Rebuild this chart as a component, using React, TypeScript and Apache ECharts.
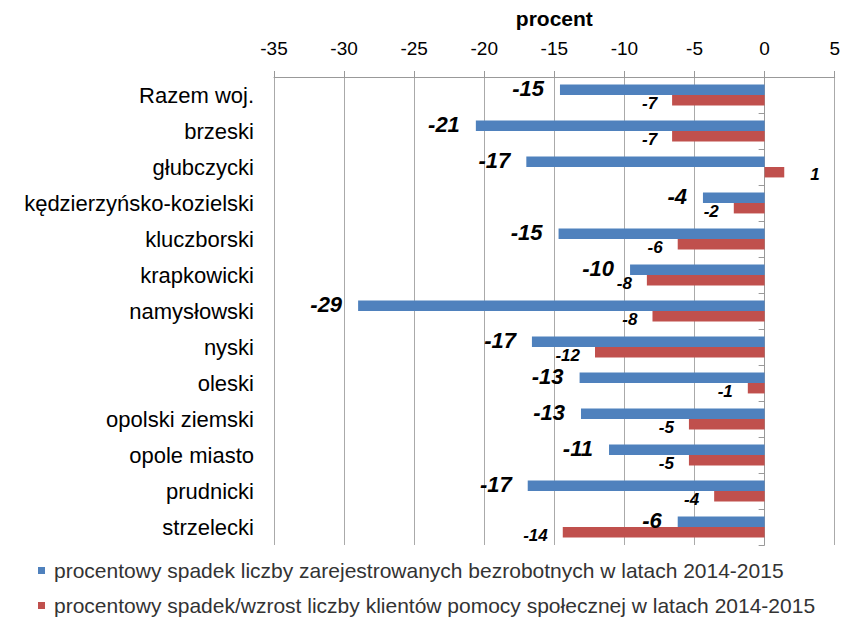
import React, { useEffect, useRef } from "react";
import * as echarts from "echarts";

const categories = [
  "Razem woj.",
  "brzeski",
  "głubczycki",
  "kędzierzyńsko-kozielski",
  "kluczborski",
  "krapkowicki",
  "namysłowski",
  "nyski",
  "oleski",
  "opolski ziemski",
  "opole miasto",
  "prudnicki",
  "strzelecki",
];

const unemployedDrop = [-14.6, -20.6, -17.0, -4.4, -14.7, -9.6, -29.0, -16.6, -13.2, -13.1, -11.1, -16.9, -6.2];
const welfareChange = [-6.6, -6.6, 1.4, -2.2, -6.2, -8.4, -8.0, -12.1, -1.2, -5.4, -5.4, -3.6, -14.4];

const seriesNames = [
  "procentowy spadek liczby zarejestrowanych bezrobotnych w latach 2014-2015",
  "procentowy spadek/wzrost liczby klientów pomocy społecznej w latach 2014-2015",
];

const FONT = "'Liberation Sans', Arial, sans-serif";

export default function App() {
  const ref = useRef<HTMLDivElement>(null);
  useEffect(() => {
    if (!ref.current) return;
    const chart = echarts.init(ref.current, null, { renderer: "svg" });
    const fmt = (p: any) => String(Math.round(p.value));
    const legendBase = {
      orient: "vertical",
      left: 38,
      padding: 0,
      itemWidth: 7,
      itemHeight: 7,
      icon: "rect",
      textStyle: { fontFamily: FONT, fontSize: 21, color: "#333", padding: [0, 0, 0, 4] },
    };
    chart.setOption({
      animation: false,
      textStyle: { fontFamily: FONT },
      grid: { left: 274, right: 8, top: 77, bottom: 75 },
      legend: [
        { ...legendBase, top: 560, data: [seriesNames[0]] },
        { ...legendBase, top: 595, data: [seriesNames[1]] },
      ],
      xAxis: {
        type: "value",
        position: "top",
        min: -35,
        max: 5,
        interval: 5,
        name: "procent",
        nameLocation: "middle",
        nameGap: 48,
        nameTextStyle: { fontFamily: FONT, fontSize: 21, fontWeight: "bold", color: "#000" },
        axisLine: { show: true, lineStyle: { color: "#999" } },
        axisTick: { show: true, length: 6, lineStyle: { color: "#999" } },
        axisLabel: { fontFamily: FONT, fontSize: 19, color: "#000", margin: 19 },
        splitLine: { show: true, lineStyle: { color: "#aaa", width: 1 } },
      },
      yAxis: [
        {
          type: "category",
          data: categories,
          inverse: true,
          axisLine: { show: false, onZero: false },
          axisTick: { show: false },
          axisLabel: { fontFamily: FONT, fontSize: 22, color: "#000", margin: 20 },
        },
        {
          type: "category",
          data: categories,
          inverse: true,
          position: "left",
          axisLine: { show: true, onZero: true, lineStyle: { color: "#999" } },
          axisTick: { show: true, length: 6, lineStyle: { color: "#999" } },
          axisLabel: { show: false },
        },
      ],
      series: [
        {
          name: seriesNames[0],
          type: "bar",
          yAxisIndex: 0,
          data: unemployedDrop,
          barGap: "0%",
          barCategoryGap: "42%",
          itemStyle: { color: "#4F81BD" },
          label: {
            show: true,
            position: "left",
            distance: 16,
            offset: [0, -1],
            formatter: fmt,
            fontFamily: FONT,
            fontSize: 22,
            fontWeight: "bold",
            fontStyle: "italic",
            color: "#000",
          },
        },
        {
          name: seriesNames[1],
          type: "bar",
          yAxisIndex: 0,
          data: welfareChange.map((v) =>
            v >= 0 ? { value: v, label: { position: "right", distance: 26, offset: [0, 2] } } : v
          ),
          barGap: "0%",
          barCategoryGap: "42%",
          itemStyle: { color: "#C0504D" },
          label: {
            show: true,
            position: "left",
            distance: 15,
            offset: [0, 3],
            formatter: fmt,
            fontFamily: FONT,
            fontSize: 17,
            fontWeight: "bold",
            fontStyle: "italic",
            color: "#000",
          },
        },
      ],
    });
    return () => chart.dispose();
  }, []);
  return (
    <div
      ref={ref}
      style={{ position: "fixed", left: 0, top: 0, width: 843, height: 620, background: "#fff" }}
    />
  );
}
